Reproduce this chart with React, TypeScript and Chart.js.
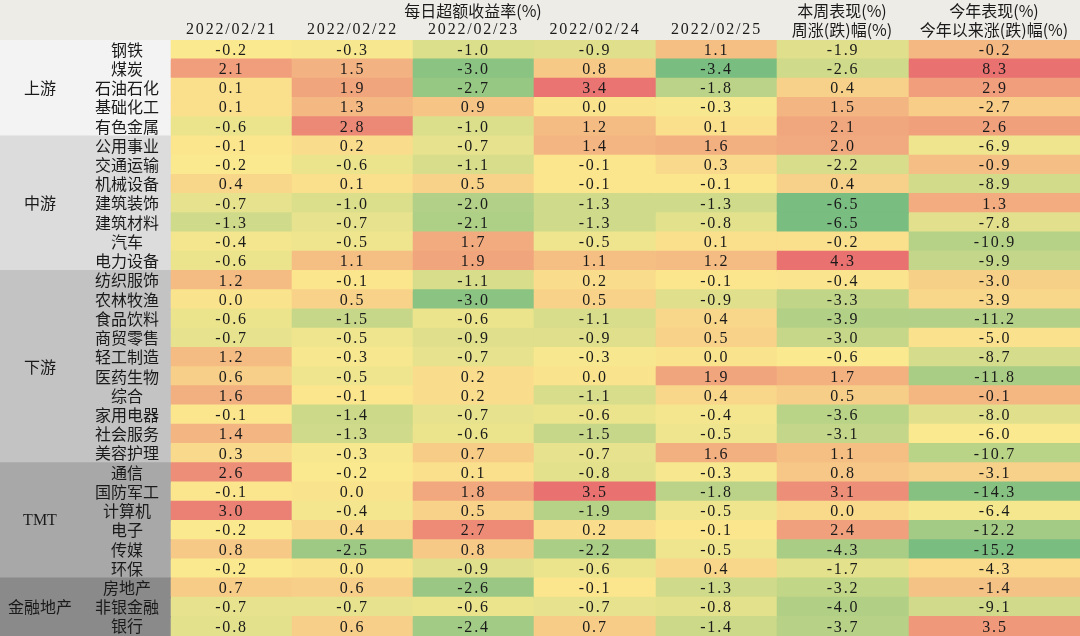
import React, { useEffect, useRef } from "react";
import { Chart, registerables } from "chart.js";

Chart.register(...registerables);

// ---------- data ----------
const industries = [
  "钢铁", "煤炭", "石油石化", "基础化工", "有色金属",
  "公用事业", "交通运输", "机械设备", "建筑装饰", "建筑材料", "汽车", "电力设备",
  "纺织服饰", "农林牧渔", "食品饮料", "商贸零售", "轻工制造", "医药生物", "综合", "家用电器", "社会服务", "美容护理",
  "通信", "国防军工", "计算机", "电子", "传媒", "环保",
  "房地产", "非银金融", "银行",
];
const groupNames = ["上游", "中游", "下游", "TMT", "金融地产"];
const groupSizes = [5, 7, 10, 6, 3];

const dateLabels = ["2022/02/21", "2022/02/22", "2022/02/23", "2022/02/24", "2022/02/25"];
const dailyTitle = "每日超额收益率(%)";
const weekTitle = ["本周表现(%)", "周涨(跌)幅(%)"];
const ytdTitle = ["今年表现(%)", "今年以来涨(跌)幅(%)"];

const d0221 = [-0.2, 2.1, 0.1, 0.1, -0.6, -0.1, -0.2, 0.4, -0.7, -1.3, -0.4, -0.6, 1.2, 0.0, -0.6, -0.7, 1.2, 0.6, 1.6, -0.1, 1.4, 0.3, 2.6, -0.1, 3.0, -0.2, 0.8, -0.2, 0.7, -0.7, -0.8];
const d0222 = [-0.3, 1.5, 1.9, 1.3, 2.8, 0.2, -0.6, 0.1, -1.0, -0.7, -0.5, 1.1, -0.1, 0.5, -1.5, -0.5, -0.3, -0.5, -0.1, -1.4, -1.3, -0.3, -0.2, 0.0, -0.4, 0.4, -2.5, 0.0, 0.6, -0.7, 0.6];
const d0223 = [-1.0, -3.0, -2.7, 0.9, -1.0, -0.7, -1.1, 0.5, -2.0, -2.1, 1.7, 1.9, -1.1, -3.0, -0.6, -0.9, -0.7, 0.2, 0.2, -0.7, -0.6, 0.7, 0.1, 1.8, 0.5, 2.7, 0.8, -0.9, -2.6, -0.6, -2.4];
const d0224 = [-0.9, 0.8, 3.4, 0.0, 1.2, 1.4, -0.1, -0.1, -1.3, -1.3, -0.5, 1.1, 0.2, 0.5, -1.1, -0.9, -0.3, 0.0, -1.1, -0.6, -1.5, -0.7, -0.8, 3.5, -1.9, 0.2, -2.2, -0.6, -0.1, -0.7, 0.7];
const d0225 = [1.1, -3.4, -1.8, -0.3, 0.1, 1.6, 0.3, -0.1, -1.3, -0.8, 0.1, 1.2, -0.1, -0.9, 0.4, 0.5, 0.0, 1.9, 0.4, -0.4, -0.5, 1.6, -0.3, -1.8, -0.5, -0.1, -0.5, 0.4, -1.3, -0.8, -1.4];
const weekChange = [-1.9, -2.6, 0.4, 1.5, 2.1, 2.0, -2.2, 0.4, -6.5, -6.5, -0.2, 4.3, -0.4, -3.3, -3.9, -3.0, -0.6, 1.7, 0.5, -3.6, -3.1, 1.1, 0.8, 3.1, 0.0, 2.4, -4.3, -1.7, -3.2, -4.0, -3.7];
const ytdChange = [-0.2, 8.3, 2.9, -2.7, 2.6, -6.9, -0.9, -8.9, 1.3, -7.8, -10.9, -9.9, -3.0, -3.9, -11.2, -5.0, -8.7, -11.8, -0.1, -8.0, -6.0, -10.7, -3.1, -14.3, -6.4, -12.2, -15.2, -4.3, -1.4, -9.1, 3.5];

const dailyColumns = [d0221, d0222, d0223, d0224, d0225];
const columns = [...dailyColumns, weekChange, ytdChange];

// ---------- layout / style ----------
const W = 1080;
const H = 636;
const HEADER_H = 40;
const colEdges = [170, 291, 412, 533, 655, 776, 908, 1080];
const groupColors = ["#F3F3F3", "#DCDCDC", "#C3C3C3", "#A8A8A8", "#8A8A8A"];
const headerBg = "#EEECE7";
const RED = [233, 113, 112];
const YEL = [251, 233, 143];
const GRN = [122, 189, 128];
const NUM_FONT = '16px "Liberation Serif", "Noto Sans CJK SC", serif';
const CJK_FONT = '16px "Noto Sans CJK SC", "Liberation Serif", sans-serif';
const TEXT_COLOR = "#1a1a1a";

function percentile(arr: number[], p: number) {
  const s = [...arr].sort((a, b) => a - b);
  const idx = (s.length - 1) * p;
  const lo = Math.floor(idx);
  const hi = Math.ceil(idx);
  return s[lo] + (s[hi] - s[lo]) * (idx - lo);
}
function mix(a: number[], b: number[], t: number) {
  const c = a.map((v, i) => Math.round(v + (b[i] - v) * t));
  return `rgb(${c[0]},${c[1]},${c[2]})`;
}
// colour scale: the range is taken from `pool`, applied to `vals`
function scaleColors(vals: number[], pool: number[]) {
  const mn = Math.min(...pool);
  const mx = Math.max(...pool);
  const md = percentile(pool, 0.5);
  return vals.map((v) => {
    if (v <= md) {
      const t = md === mn ? 1 : (v - mn) / (md - mn);
      return mix(GRN, YEL, t);
    }
    const t = mx === md ? 0 : (v - md) / (mx - md);
    return mix(YEL, RED, t);
  });
}

const rowGroup: number[] = [];
groupSizes.forEach((n, g) => {
  for (let i = 0; i < n; i++) rowGroup.push(g);
});

const textPlugin = {
  id: "tableText",
  beforeDraw(chart: any) {
    const ctx = chart.ctx;
    ctx.save();
    ctx.fillStyle = "#ffffff";
    ctx.fillRect(0, 0, W, H);
    ctx.fillStyle = headerBg;
    ctx.fillRect(0, 0, W, HEADER_H);
    ctx.restore();
  },
  afterDatasetsDraw(chart: any) {
    const ctx = chart.ctx;
    const xs = chart.scales.x;
    ctx.save();
    ctx.textAlign = "center";
    ctx.textBaseline = "middle";
    ctx.fillStyle = TEXT_COLOR;

    // header
    const cx = (i: number) => xs.getPixelForValue((colEdges[i] + colEdges[i + 1]) / 2);
    ctx.font = CJK_FONT;
    (ctx as any).letterSpacing = "0px";
    const dailyCenter = xs.getPixelForValue((colEdges[0] + colEdges[5]) / 2);
    ctx.fillText(dailyTitle, dailyCenter, 11);
    ctx.fillText(weekTitle[0], cx(5), 11);
    ctx.fillText(weekTitle[1], cx(5), 30);
    ctx.fillText(ytdTitle[0], cx(6), 11);
    ctx.fillText(ytdTitle[1], cx(6), 30);
    ctx.font = NUM_FONT;
    (ctx as any).letterSpacing = "1.8px";
    dateLabels.forEach((d, i) => ctx.fillText(d, cx(i) + 1, 30));

    // values
    columns.forEach((vals, ci) => {
      const meta = chart.getDatasetMeta(ci + 1);
      vals.forEach((v, ri) => {
        const el = meta.data[ri];
        const p = el.getProps(["x", "y", "base"], true);
        ctx.fillText(v.toFixed(1), (p.x + p.base) / 2 + 1, p.y + 1);
      });
    });

    // industry names & groups
    const gMeta = chart.getDatasetMeta(0);
    (ctx as any).letterSpacing = "0px";
    ctx.font = CJK_FONT;
    industries.forEach((name, ri) => {
      const p = gMeta.data[ri].getProps(["y"], true);
      ctx.fillText(name, xs.getPixelForValue(127), p.y);
    });
    let start = 0;
    groupNames.forEach((g, gi) => {
      const a = gMeta.data[start].getProps(["y"], true).y;
      const b = gMeta.data[start + groupSizes[gi] - 1].getProps(["y"], true).y;
      ctx.font = g === "TMT" ? NUM_FONT : CJK_FONT;
      ctx.fillText(g, xs.getPixelForValue(40), (a + b) / 2);
      start += groupSizes[gi];
    });
    ctx.restore();
  },
};

export default function App() {
  const ref = useRef<HTMLCanvasElement | null>(null);
  useEffect(() => {
    document.body.style.margin = "0";
    const canvas = ref.current;
    if (!canvas) return;
    const dailyPool = dailyColumns.flat();
    const datasets: any[] = [];
    datasets.push({
      label: "group",
      data: industries.map(() => [0, colEdges[0]]),
      backgroundColor: rowGroup.map((g) => groupColors[g]),
      borderWidth: 0,
      inflateAmount: 0.7,
      barPercentage: 1,
      categoryPercentage: 1,
    });
    columns.forEach((vals, ci) => {
      const pool = ci < dailyColumns.length ? dailyPool : vals;
      datasets.push({
        label: "col" + ci,
        data: vals.map(() => [colEdges[ci], colEdges[ci + 1]]),
        backgroundColor: scaleColors(vals, pool),
        borderWidth: 0,
        inflateAmount: 0.7,
        barPercentage: 1,
        categoryPercentage: 1,
      });
    });
    const chart = new Chart(canvas, {
      type: "bar",
      data: { labels: industries, datasets },
      options: {
        indexAxis: "y",
        animation: false,
        responsive: false,
        maintainAspectRatio: false,
        layout: { padding: { top: HEADER_H, left: 0, right: 0, bottom: 0 } },
        datasets: { bar: { grouped: false } as any },
        scales: {
          x: { type: "linear", min: 0, max: W, display: false },
          y: { type: "category", display: false, offset: true },
        },
        plugins: { legend: { display: false }, tooltip: { enabled: false } },
      } as any,
      plugins: [textPlugin],
    });
    return () => chart.destroy();
  }, []);
  return (
    <div style={{ width: W, height: H }}>
      <canvas ref={ref} width={W} height={H} style={{ display: "block", width: W, height: H }} />
    </div>
  );
}
